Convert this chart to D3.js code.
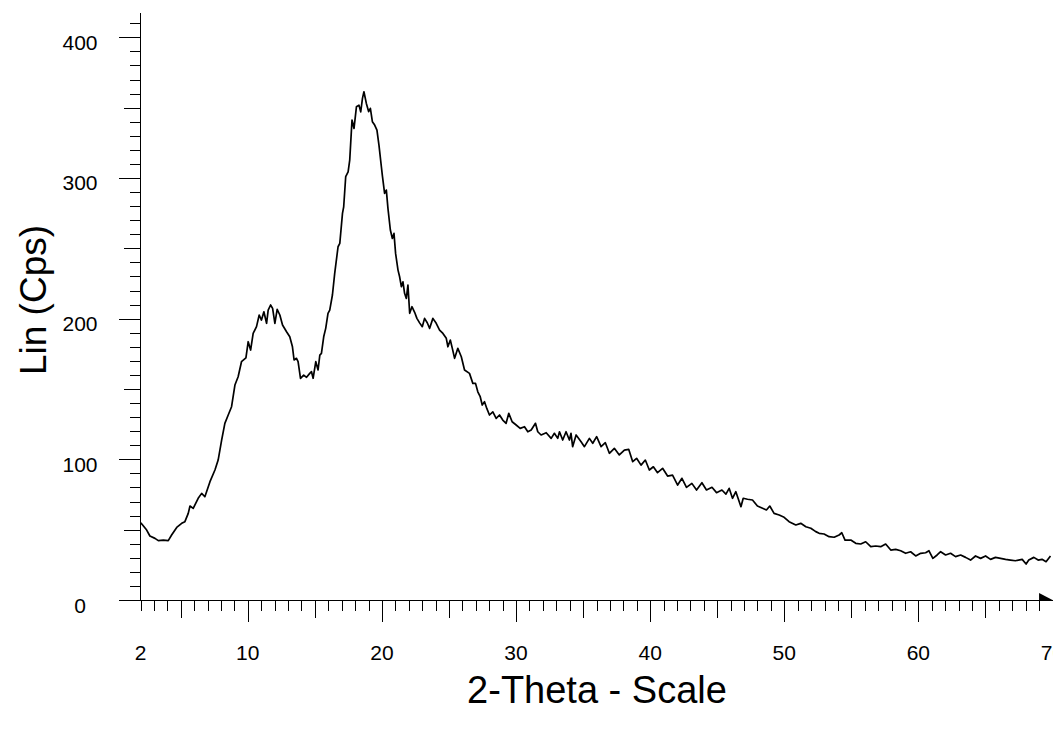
<!DOCTYPE html>
<html>
<head>
<meta charset="utf-8">
<script src="https://cdn.jsdelivr.net/npm/d3@7"></script>
<style>
  html, body { margin: 0; padding: 0; background: #fff; }
  svg { display: block; }
  text { font-family: Arial, "Liberation Sans", sans-serif; fill: #000; }
</style>
</head>
<body>
<svg id="chart" width="1053" height="731"></svg>
<script>
// Diffractogram: 2-theta (degrees) and intensity (counts per second)
const twoTheta = [
  2.02, 2.16, 2.46, 2.70, 3.08, 3.33, 3.70, 4.07, 4.32, 4.70, 5.07, 5.31, 5.56, 5.69, 5.93,
  6.30, 6.56, 6.80, 7.18, 7.55, 7.79, 8.05, 8.29, 8.54, 8.79, 9.04, 9.28, 9.53, 9.86, 10.03,
  10.21, 10.40, 10.65, 10.85, 11.02, 11.20, 11.40, 11.52, 11.70, 11.85, 12.02, 12.19, 12.39, 12.59, 12.89,
  13.13, 13.33, 13.45, 13.63, 13.75, 13.93, 14.17, 14.38, 14.62, 14.75, 14.87, 15.07, 15.24, 15.37, 15.49,
  15.66, 15.81, 15.98, 16.11, 16.31, 16.48, 16.73, 16.86, 17.06, 17.15, 17.30, 17.48, 17.60, 17.77, 17.92,
  18.10, 18.29, 18.42, 18.55, 18.66, 18.84, 19.01, 19.14, 19.29, 19.46, 19.63, 19.78, 19.96, 20.03, 20.20,
  20.33, 20.45, 20.63, 20.78, 20.90, 21.02, 21.20, 21.32, 21.45, 21.57, 21.69, 21.82, 21.94, 22.07, 22.24,
  22.44, 22.61, 22.81, 23.01, 23.18, 23.38, 23.56, 23.80, 24.05, 24.30, 24.55, 24.80, 24.92, 25.10, 25.25,
  25.42, 25.66, 25.92, 26.16, 26.53, 26.78, 26.98, 27.15, 27.33, 27.48, 27.65, 27.82, 28.02, 28.27, 28.52,
  28.77, 29.01, 29.26, 29.46, 29.71, 30.01, 30.31, 30.63, 30.88, 31.13, 31.45, 31.62, 31.87, 32.25, 32.62,
  32.86, 33.11, 33.24, 33.48, 33.73, 33.98, 34.10, 34.22, 34.48, 34.85, 35.10, 35.47, 35.72, 36.01, 36.34,
  36.66, 36.96, 37.33, 37.70, 38.08, 38.40, 38.70, 38.99, 39.32, 39.64, 39.94, 40.24, 40.55, 40.93, 41.30,
  41.67, 42.05, 42.37, 42.71, 43.11, 43.46, 43.86, 44.20, 44.61, 44.95, 45.35, 45.65, 45.89, 46.14, 46.39,
  46.77, 46.94, 47.26, 47.63, 48.00, 48.38, 48.67, 48.92, 49.24, 49.62, 49.99, 50.36, 50.86, 51.23, 51.61,
  51.98, 52.35, 52.60, 52.97, 53.34, 53.72, 54.09, 54.29, 54.53, 54.96, 55.33, 55.70, 56.07, 56.45, 56.82,
  57.19, 57.56, 57.94, 58.31, 58.68, 59.05, 59.42, 59.80, 60.17, 60.54, 60.79, 61.08, 61.40, 61.66, 62.03,
  62.40, 62.77, 63.15, 63.52, 63.89, 64.26, 64.64, 65.01, 65.38, 65.75, 66.13, 66.50, 66.87, 67.24, 67.74,
  68.03, 68.23, 68.61, 68.93, 69.22, 69.52, 69.85
];
const counts = [
  54.8, 53.3, 49.7, 45.5, 43.8, 42.2, 42.6, 42.2, 46.2, 51.6, 54.5, 55.7, 61.6, 66.8, 65.1,
  72.3, 75.8, 73.4, 84.1, 92.4, 99.5, 113.7, 125.6, 131.5, 137.4, 152.8, 158.7, 169.4, 172.1, 183.6,
  177.7, 189.5, 194.3, 202.6, 199.0, 204.9, 196.7, 206.1, 209.7, 207.3, 196.7, 206.6, 202.6, 195.5, 190.7,
  187.1, 180.0, 170.6, 171.8, 169.4, 157.6, 159.9, 158.3, 161.1, 162.3, 157.6, 169.4, 163.5, 174.1, 175.3,
  187.1, 193.1, 203.8, 206.1, 216.8, 232.2, 251.1, 253.5, 274.8, 279.5, 300.9, 304.4, 312.7, 341.2, 335.2,
  350.6, 351.8, 347.0, 356.6, 361.3, 353.0, 347.2, 349.5, 340.0, 337.6, 334.0, 323.4, 308.0, 302.0, 289.0,
  291.4, 278.4, 263.0, 257.0, 260.6, 246.4, 234.5, 229.8, 222.7, 226.2, 218.0, 214.4, 223.9, 203.8, 208.5,
  204.5, 200.2, 197.0, 194.3, 200.2, 197.1, 193.1, 200.2, 196.7, 191.9, 189.5, 186.0, 180.0, 184.8, 178.9,
  171.8, 178.9, 172.9, 163.5, 161.1, 154.0, 154.0, 148.0, 144.5, 138.6, 141.0, 136.2, 131.5, 133.8, 129.1,
  131.5, 127.9, 125.6, 132.7, 126.7, 124.4, 122.0, 123.2, 119.6, 120.8, 125.6, 119.6, 117.3, 118.9, 114.9,
  118.5, 114.9, 119.6, 113.7, 119.6, 113.7, 118.5, 109.0, 117.3, 112.5, 109.0, 114.9, 111.4, 116.1, 109.0,
  111.8, 104.3, 107.8, 103.1, 106.6, 107.1, 98.3, 100.7, 95.9, 99.5, 92.4, 94.7, 90.5, 93.6, 88.1,
  88.8, 81.7, 86.5, 80.1, 82.9, 78.2, 83.4, 78.2, 80.1, 76.3, 78.2, 75.3, 79.4, 72.3, 77.0,
  66.3, 72.3, 71.6, 71.1, 66.8, 65.2, 64.0, 66.8, 61.6, 60.4, 58.8, 55.7, 53.3, 54.5, 52.1,
  51.0, 48.6, 47.4, 46.9, 45.0, 44.6, 46.2, 47.8, 42.6, 42.6, 40.3, 39.8, 41.4, 37.9, 38.4,
  37.9, 39.8, 35.5, 36.0, 35.0, 33.2, 34.3, 31.3, 33.2, 33.6, 35.0, 29.6, 32.0, 34.3, 32.0,
  33.2, 30.8, 32.0, 30.3, 28.4, 31.3, 29.6, 31.3, 28.9, 30.3, 29.6, 28.9, 28.4, 27.9, 28.9,
  25.6, 28.4, 30.3, 28.4, 28.9, 27.2, 31.3
];

// Axis tick labels
const xTickLabels = [2, 10, 20, 30, 40, 50, 60, 70];
const yTickLabels = [0, 100, 200, 300, 400];

const xTitle = "2-Theta - Scale";
const yTitle = "Lin (Cps)";

const svg = d3.select("#chart");

const x = d3.scaleLinear().domain([2, 70]).range([140.5, 1052.5]);
const y = d3.scaleLinear().domain([0, 400]).range([600, 37.3]);

const x0 = x(2), y0 = y(0);

// Axis lines
const axes = svg.append("g").attr("stroke", "#000").attr("stroke-width", 1).attr("shape-rendering", "crispEdges");
axes.append("line").attr("x1", x0).attr("x2", x0).attr("y1", y0).attr("y2", y(417));
axes.append("line").attr("x1", x0).attr("x2", 1053).attr("y1", y0).attr("y2", y0);

// Y ticks: every 10, longer at 50 and 100
const yTicks = d3.range(0, 411, 10);
axes.selectAll(".yt").data(yTicks).join("line")
  .attr("x1", d => x0 - (d % 100 === 0 ? 22 : d % 50 === 0 ? 17 : 11))
  .attr("x2", x0)
  .attr("y1", d => Math.round(y(d)) + 0.5)
  .attr("y2", d => Math.round(y(d)) + 0.5);

// X ticks: every degree, longer at 5 and 10
const xTicks = d3.range(2, 70, 1);
axes.selectAll(".xt").data(xTicks).join("line")
  .attr("x1", d => Math.round(x(d)) + 0.5)
  .attr("x2", d => Math.round(x(d)) + 0.5)
  .attr("y1", y0)
  .attr("y2", d => y0 + (d % 10 === 0 ? 22 : d % 5 === 0 ? 18 : 11));

// Arrow head at the end of the 2-theta axis
svg.append("path")
  .attr("d", `M${x(69)},${y0 - 7} L${x(69)},${y0} L${x(70)},${y0} Z`)
  .attr("fill", "#000");

// Tick labels
svg.append("g").selectAll("text").data(yTickLabels).join("text")
  .attr("x", 80)
  .attr("y", d => y(d) + 12.5)
  .attr("text-anchor", "middle")
  .attr("font-size", 21)
  .text(d => d);

svg.append("g").selectAll("text").data(xTickLabels).join("text")
  .attr("x", d => x(d))
  .attr("y", 660)
  .attr("text-anchor", "middle")
  .attr("font-size", 21)
  .text(d => d);

// Axis titles
svg.append("text")
  .attr("x", 597)
  .attr("y", 703)
  .attr("text-anchor", "middle")
  .attr("font-size", 38)
  .text(xTitle);

svg.append("text")
  .attr("transform", "translate(46,300) rotate(-90)")
  .attr("text-anchor", "middle")
  .attr("font-size", 37)
  .text(yTitle);

// Intensity trace
const data = twoTheta.map((t, i) => [t, counts[i]]);
svg.append("path")
  .datum(data)
  .attr("fill", "none")
  .attr("stroke", "#000")
  .attr("stroke-width", 1.7)
  .attr("stroke-linejoin", "round")
  .attr("d", d3.line().x(d => x(d[0])).y(d => y(d[1])));
</script>
</body>
</html>
